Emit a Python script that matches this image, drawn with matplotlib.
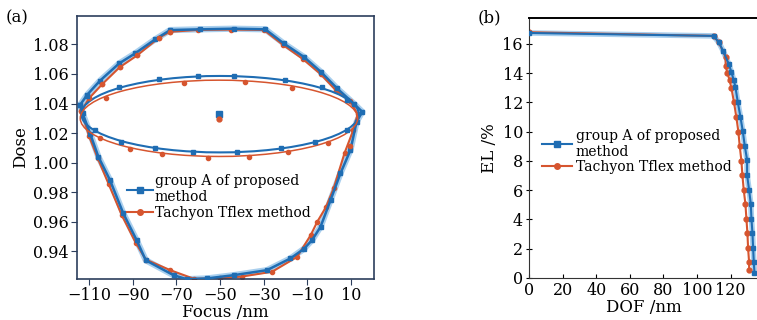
import matplotlib.pyplot as plt
from matplotlib.patches import Ellipse

plt.rcParams['font.family'] = ['DejaVu Serif']
plt.rcParams['mathtext.fontset'] = 'dejavuserif'

blue = '#1f6db3'
red = '#d6552f'
halo = '#a9cfee'

# (a) process windows: group A of proposed method (blue), Tachyon Tflex (red)
blue_pw_focus = [-114.1, -110.8, -105.0, -96.2, -88.9, -79.7, -72.8, -59.1, -43.8, -29.3,
                 -20.9, -11.7, -3.9, 3.6, 11.2, 15.1, 12.5, 9.7, 5.1, 0.6, -4.0, -7.9,
                 -11.7, -17.8, -28.5, -43.8, -56.0, -65.2, -71.3, -84.0, -88.2, -94.3,
                 -100.4, -105.7, -109.5, -112.9, -114.1]
blue_pw_dose = [1.039, 1.046, 1.0554, 1.0671, 1.0739, 1.0834, 1.0897, 1.0902, 1.0906, 1.0902,
                1.0807, 1.0716, 1.0615, 1.0502, 1.040, 1.0344, 1.0276, 1.0085, 0.9927, 0.9747,
                0.9566, 0.9476, 0.9416, 0.9352, 0.9273, 0.9239, 0.9217, 0.9212, 0.9239, 0.934,
                0.9476, 0.9657, 0.9882, 1.004, 1.0197, 1.0333, 1.039]

red_pw_focus = [-113.5, -110.0, -104.0, -96.0, -88.0, -78.0, -73.0, -60.0, -45.0, -30.0,
                -21.0, -12.0, -4.0, 3.0, 9.5, 13.0, 11.0, 7.0, 2.0, -1.5, -5.5, -8.5,
                -14.7, -26.2, -40.0, -50.0, -62.0, -72.8, -84.0, -88.5, -95.0, -101.0,
                -106.0, -110.0, -113.5]
red_pw_dose = [1.035, 1.0435, 1.053, 1.0645, 1.0725, 1.0845, 1.0885, 1.0898, 1.090, 1.0898,
               1.0795, 1.070, 1.060, 1.049, 1.0415, 1.033, 1.022, 1.0065, 0.9826, 0.970,
               0.960, 0.951, 0.9363, 0.9262, 0.923, 0.9217, 0.9215, 0.9273, 0.9345, 0.9455,
               0.9645, 0.9855, 1.003, 1.018, 1.035]

# fitted ellipses: center focus, center dose, full width (nm), full height (dose)
blue_ell = (-50.0, 1.0328, 127.0, 0.0517)
red_ell = (-50.5, 1.0300, 127.0, 0.0516)

blue_ell_focus = [-110.8, -96.2, -77.9, -59.9, -43.8, -20.1, -3.3, 8.2,
                  -107.2, -95.3, -79.7, -62.2, -42.2, -21.9, -6.3, 8.2]
blue_ell_dose = [1.045, 1.0509, 1.0563, 1.0587, 1.0588, 1.0558, 1.0509, 1.0423,
                 1.022, 1.0141, 1.0098, 1.0069, 1.0069, 1.0096, 1.0141, 1.022]
red_ell_focus = [-102.2, -66.7, -38.4, -17.0, -105.0, -91.2, -76.7, -55.7, -36.9, -18.8, -0.5, 9.4]
red_ell_dose = [1.0439, 1.054, 1.0545, 1.0504, 1.0164, 1.0091, 1.0058, 1.0031, 1.004, 1.0069, 1.013, 1.0114]

blue_center = (-50.7, 1.0326)
red_center = (-50.7, 1.0293)

# (b) EL vs DOF
blue_dof = [0.0, 109.8, 113.0, 115.4, 119.0, 120.4, 121.8, 122.8, 124.2, 125.8, 127.2, 128.4,
            129.8, 129.8, 131.0, 132.0, 132.4, 133.0, 133.4, 133.8, 134.2]
blue_el = [16.75, 16.55, 16.1, 15.55, 14.6, 14.09, 13.54, 13.08, 12.06, 11.03, 10.05, 9.04,
           8.06, 7.03, 6.0, 5.05, 4.02, 3.04, 2.01, 1.05, 0.34]
red_dof = [0.0, 109.8, 113.0, 117.0, 117.0, 118.0, 119.4, 120.4, 122.0, 123.4, 124.6, 125.4,
           126.4, 127.0, 127.8, 128.8, 129.4, 130.0, 130.4, 131.0, 131.0]
red_el = [16.8, 16.55, 16.1, 15.09, 14.5, 14.04, 13.5, 13.01, 12.0, 10.99, 10.0, 9.02,
          8.01, 7.03, 6.0, 5.05, 4.02, 3.04, 2.01, 1.05, 0.53]

fig = plt.figure(figsize=(7.57, 3.2), dpi=100)
ax1 = fig.add_axes([0.1017, 0.128, 0.3924, 0.822])
ax2 = fig.add_axes([0.699, 0.132, 0.303, 0.812])

# ---- panel (a)
ax1.plot(blue_pw_focus, blue_pw_dose, color=halo, lw=4.5, zorder=1, solid_joinstyle='round')
ax1.plot(red_pw_focus, red_pw_dose, color=red, lw=1.5, marker='o', ms=3, zorder=2)
ax1.plot(blue_pw_focus, blue_pw_dose, color=blue, lw=1.8, marker='s', ms=2.5, zorder=3)
ax1.plot(red_pw_focus[1:7], red_pw_dose[1:7], ls='none', color=red, marker='o', ms=3, zorder=4)

for (cx, cy, w, h), col in [(blue_ell, blue), (red_ell, red)]:
    ax1.add_patch(Ellipse((cx, cy), w, h, fill=False, edgecolor=col,
                          lw=1.5 if col == blue else 1.1, zorder=3))
ax1.plot(blue_ell_focus, blue_ell_dose, ls='none', marker='s', ms=3, color=blue, zorder=4)
ax1.plot(red_ell_focus, red_ell_dose, ls='none', marker='o', ms=3, color=red, zorder=4)
ax1.plot(*blue_center, ls='none', marker='s', ms=4, color=blue)
ax1.plot(*red_center, ls='none', marker='o', ms=3.5, color=red)

ax1.set_xlim(-115.5, 20.5)
ax1.set_ylim(0.9213, 1.0992)
ax1.set_xticks([-110, -90, -70, -50, -30, -10, 10])
ax1.set_yticks([0.94, 0.96, 0.98, 1.00, 1.02, 1.04, 1.06, 1.08])
ax1.set_yticklabels(['0.94', '0.96', '0.98', '1.00', '1.02', '1.04', '1.06', '1.08'])
ax1.tick_params(direction='out', labelsize=11.5, length=4, color='#2c3e5c', pad=2)
for s in ax1.spines.values():
    s.set_color('#2c3e5c')
    s.set_linewidth(1.2)
ax1.set_xlabel('Focus /nm', fontsize=12, labelpad=0)
ax1.set_ylabel('Dose', fontsize=12, labelpad=3)

h1, = ax1.plot([], [], color=blue, marker='s', ms=4, lw=1.5)
h2, = ax1.plot([], [], color=red, marker='o', ms=4, lw=1.5)
ax1.legend([h1, h2], ['group A of proposed\nmethod', 'Tachyon Tflex method'],
           loc='upper left', bbox_to_anchor=(0.15, 0.42), frameon=False, fontsize=10,
           handlelength=1.9, handletextpad=0.1, labelspacing=0.1, borderaxespad=0)

fig.text(0.007, 0.93, '(a)', fontsize=12)

# ---- panel (b)
ax2.plot(blue_dof, blue_el, color=halo, lw=4, zorder=1)
ax2.plot(red_dof, red_el, color=red, lw=1.5, marker='o', ms=3.5, zorder=2)
ax2.plot(blue_dof, blue_el, color=blue, lw=1.5, marker='s', ms=3.5, zorder=3)
ax2.set_xlim(0, 136.6)
ax2.set_ylim(0, 17.78)
ax2.set_xticks(range(0, 121, 20))
ax2.set_yticks(range(0, 17, 2))
ax2.tick_params(axis='x', direction='in', labelsize=11.5, length=3, pad=3)
ax2.tick_params(axis='y', direction='inout', labelsize=11.5, length=5, pad=2)
for s in ax2.spines.values():
    s.set_color('#333333')
ax2.spines['top'].set_color('black')
ax2.spines['top'].set_linewidth(1.4)
ax2.spines['right'].set_visible(False)
ax2.set_xlabel('DOF /nm', fontsize=12, labelpad=0)
ax2.set_ylabel('EL /%', fontsize=12, labelpad=3)

h3, = ax2.plot([], [], color=blue, marker='s', ms=4, lw=1.5)
h4, = ax2.plot([], [], color=red, marker='o', ms=4, lw=1.5)
ax2.legend([h3, h4], ['group A of proposed\nmethod', 'Tachyon Tflex method'],
           loc='upper left', bbox_to_anchor=(0.03, 0.595), frameon=False, fontsize=10,
           handlelength=2.2, handletextpad=0.25, labelspacing=0.1, borderaxespad=0)

fig.text(0.631, 0.93, '(b)', fontsize=12)

fig.savefig('out.png', dpi=100)
